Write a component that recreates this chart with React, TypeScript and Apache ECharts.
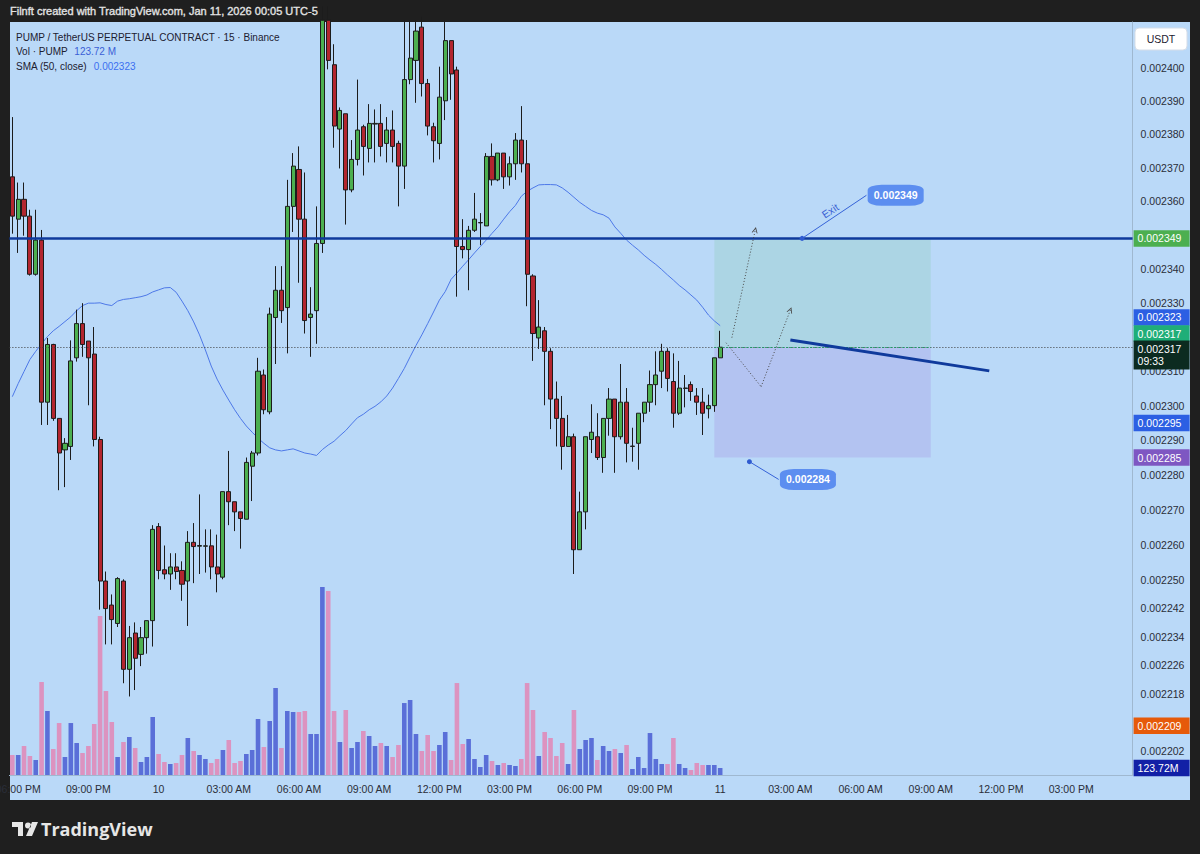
import React, { useEffect, useRef } from "react";
import * as echarts from "echarts";

// ---------- data (price scale is logarithmic) ----------
const SYMBOL_TITLE = "PUMP / TetherUS PERPETUAL CONTRACT · 15 · Binance";
const HEADER = "Filnft created with TradingView.com, Jan 11, 2026 00:05 UTC-5";

const open = [
  0.0023673, 0.0023547, 0.0023606, 0.0023556, 0.0023384, 0.0023485, 0.002301, 0.0023178, 0.0022963, 0.0022872,
  0.0022882, 0.0023139, 0.0023239, 0.0023188, 0.002315, 0.0022902, 0.0022497, 0.0022429, 0.0022377, 0.0022497,
  0.0022248, 0.002235, 0.002229, 0.0022337, 0.0022385, 0.0022652, 0.0022529, 0.0022517, 0.0022537, 0.0022527,
  0.0022497, 0.0022607, 0.0022596, 0.0022596, 0.0022597, 0.0022537, 0.0022508, 0.0022752, 0.0022723, 0.0022694,
  0.0022673, 0.0022825, 0.0022863, 0.0023089, 0.0022982, 0.0023257, 0.0023337, 0.0023286, 0.0023585, 0.0023695,
  0.0023547, 0.0023257, 0.0023277, 0.0023475, 0.0024145, 0.002401, 0.0023816, 0.0023862, 0.0023634, 0.0023725,
  0.0023823, 0.0023758, 0.0023831, 0.0023833, 0.0023773, 0.0023813, 0.0023773, 0.0023705, 0.0023965, 0.0024023,
  0.0024124, 0.0023953, 0.0023823, 0.0023773, 0.0023901, 0.0024083, 0.0023994, 0.0023466, 0.0023457, 0.0023514,
  0.0023536, 0.0023527, 0.0023734, 0.0023664, 0.0023744, 0.0023673, 0.0023712, 0.0023783, 0.0023712, 0.0023379,
  0.0023197, 0.0023218, 0.0023158, 0.0023019, 0.0022963, 0.0022882, 0.002291, 0.0022586, 0.0022694, 0.0022902,
  0.002291, 0.002285, 0.0022963, 0.0023019, 0.002291, 0.002301, 0.0022882, 0.0022891, 0.0022978, 0.002301,
  0.0023061, 0.00231, 0.0023158, 0.002307, 0.0022978, 0.002305, 0.0023061, 0.0023028, 0.002301, 0.0022991,
  0.0023, 0.0023139,
];
const close = [
  0.0023556, 0.0023606, 0.0023556, 0.0023384, 0.0023485, 0.002301, 0.0023178, 0.0022963, 0.0022863, 0.0022891,
  0.002313, 0.0023239, 0.0023178, 0.0023139, 0.0022902, 0.0022497, 0.0022419, 0.0022388, 0.0022504, 0.0022248,
  0.0022337, 0.0022279, 0.0022337, 0.0022385, 0.0022644, 0.0022527, 0.0022517, 0.0022537, 0.0022524, 0.0022488,
  0.0022607, 0.0022595, 0.0022598, 0.0022597, 0.0022537, 0.0022517, 0.0022752, 0.0022723, 0.0022694, 0.0022675,
  0.0022836, 0.0022863, 0.00231, 0.0022988, 0.0023267, 0.0023337, 0.0023277, 0.0023585, 0.0023705, 0.0023547,
  0.0023248, 0.0023267, 0.0023475, 0.0024145, 0.0024023, 0.0023825, 0.0023872, 0.0023634, 0.0023725, 0.0023813,
  0.0023764, 0.0023833, 0.0023833, 0.0023764, 0.0023813, 0.0023764, 0.0023705, 0.0023965, 0.002403, 0.0024112,
  0.0023953, 0.0023825, 0.0023781, 0.0023912, 0.0024083, 0.0023982, 0.0023466, 0.0023457, 0.0023514, 0.0023547,
  0.0023537, 0.0023734, 0.0023664, 0.0023744, 0.0023673, 0.0023712, 0.0023783, 0.0023712, 0.0023384, 0.002321,
  0.0023229, 0.0023158, 0.0023019, 0.0022963, 0.0022882, 0.002291, 0.0022586, 0.0022694, 0.002291, 0.0022923,
  0.002285, 0.0022963, 0.0023019, 0.002291, 0.002301, 0.0022891, 0.0022883, 0.0022978, 0.002301, 0.0023061,
  0.0023089, 0.0023158, 0.0023079, 0.0022978, 0.0023051, 0.0023051, 0.0023041, 0.002301, 0.0022978, 0.0023,
  0.0023139, 0.002317,
];
const low = [
  0.0023504, 0.0023447, 0.0023498, 0.002338, 0.002338, 0.0022944, 0.0022944, 0.0022956, 0.0022756, 0.0022765,
  0.0022843, 0.0023128, 0.0023142, 0.0023001, 0.0022882, 0.0022416, 0.0022318, 0.0022318, 0.0022367, 0.0022209,
  0.0022172, 0.002219, 0.0022257, 0.0022292, 0.0022312, 0.0022502, 0.0022502, 0.0022472, 0.0022502, 0.0022441,
  0.002237, 0.0022491, 0.0022517, 0.0022521, 0.0022502, 0.0022465, 0.0022502, 0.0022656, 0.0022639, 0.0022589,
  0.0022673, 0.0022725, 0.0022856, 0.0022975, 0.0022975, 0.0023121, 0.0023241, 0.0023152, 0.0023509, 0.0023359,
  0.002321, 0.0023142, 0.002318, 0.0023447, 0.0023996, 0.002376, 0.0023698, 0.0023531, 0.0023627, 0.0023707,
  0.0023677, 0.0023716, 0.0023716, 0.0023734, 0.0023716, 0.0023716, 0.0023585, 0.0023637, 0.0023951, 0.0023895,
  0.0023914, 0.0023797, 0.0023716, 0.0023725, 0.0023843, 0.0023904, 0.0023318, 0.0023431, 0.0023337, 0.0023509,
  0.002347, 0.0023527, 0.0023647, 0.002366, 0.0023637, 0.0023647, 0.0023664, 0.0023686, 0.002329, 0.002313,
  0.0023165, 0.0023001, 0.0022932, 0.0022882, 0.0022815, 0.0022882, 0.0022517, 0.0022586, 0.0022644, 0.0022863,
  0.0022843, 0.0022806, 0.0022913, 0.0022806, 0.0022902, 0.0022836, 0.0022838, 0.0022815, 0.0022952, 0.0022982,
  0.0023001, 0.0023051, 0.0023041, 0.0022936, 0.0022973, 0.0022995, 0.0023014, 0.0022973, 0.0022915, 0.0022963,
  0.0022982, 0.0023139,
];
const high = [
  0.0023852, 0.0023656, 0.0023656, 0.0023575, 0.0023575, 0.0023515, 0.0023197, 0.002318, 0.0022963, 0.0022906,
  0.002319, 0.002328, 0.0023299, 0.0023188, 0.0023229, 0.002291, 0.0022524, 0.0022459, 0.0022508, 0.0022502,
  0.002237, 0.002238, 0.0022367, 0.0022385, 0.0022656, 0.0022662, 0.0022598, 0.0022576, 0.0022576, 0.0022553,
  0.0022639, 0.0022662, 0.0022744, 0.0022644, 0.0022644, 0.0022629, 0.0022752, 0.0022869, 0.0022723, 0.0022694,
  0.002285, 0.0022869, 0.0023139, 0.0023105, 0.0023286, 0.0023408, 0.0023408, 0.0023664, 0.0023744, 0.0023764,
  0.0023686, 0.0023346, 0.0023585, 0.0024186, 0.0024186, 0.0024072, 0.0023881, 0.0023862, 0.0023783, 0.0023965,
  0.0023829, 0.0023891, 0.0023875, 0.0023891, 0.0023852, 0.0023872, 0.0023781, 0.0024145, 0.0024145, 0.0024145,
  0.0024155, 0.0023967, 0.0023835, 0.0024004, 0.0024145, 0.0024083, 0.0024004, 0.0023547, 0.0023527, 0.0023625,
  0.0023565, 0.0023744, 0.0023773, 0.0023744, 0.0023744, 0.0023734, 0.0023804, 0.0023885, 0.0023783, 0.0023384,
  0.0023308, 0.0023229, 0.0023167, 0.002307, 0.0023028, 0.0022973, 0.0022919, 0.0022752, 0.002291, 0.0023004,
  0.0022978, 0.0022963, 0.0023051, 0.0023019, 0.0023121, 0.0023051, 0.0022936, 0.0022978, 0.002301, 0.0023102,
  0.0023158, 0.002318, 0.0023167, 0.0023152, 0.002313, 0.0023089, 0.002307, 0.0023051, 0.0023051, 0.0023032,
  0.0023139, 0.0023218,
];
// volume, millions of PUMP
const volume = [
  354, 354, 513, 336, 266, 1646, 1133, 460, 920, 319,
  920, 566, 389, 513, 903, 2814, 1487, 938, 319, 584,
  673, 478, 230, 319, 1027, 372, 230, 195, 212, 354,
  655, 425, 354, 283, 212, 283, 443, 620, 212, 248,
  372, 443, 991, 496, 956, 1540, 478, 1133, 1115, 1115,
  1133, 726, 726, 3328, 3257, 1133, 584, 1151, 478, 584,
  779, 690, 513, 566, 513, 319, 531, 1274, 1328, 726,
  425, 708, 425, 531, 761, 266, 1628, 549, 637, 283,
  142, 354, 248, 177, 212, 177, 159, 283, 1628, 1151,
  336, 761, 655, 336, 566, 195, 1151, 460, 620, 655,
  266, 513, 425, 460, 389, 531, 106, 319, 124, 743,
  283, 195, 195, 655, 195, 124, 89, 212, 177, 177,
  177, 123.72,
];
// SMA(50, close) as drawn
const sma = [
  0.0023026, 0.0023064, 0.0023099, 0.0023134, 0.0023158, 0.002318, 0.0023201, 0.0023218, 0.0023231, 0.0023245,
  0.0023259, 0.0023277, 0.0023292, 0.0023299, 0.0023299, 0.00233, 0.0023295, 0.0023292, 0.0023305, 0.002331,
  0.0023312, 0.0023315, 0.0023318, 0.0023323, 0.0023332, 0.0023338, 0.0023344, 0.0023345, 0.0023331, 0.0023305,
  0.0023277, 0.0023244, 0.0023206, 0.0023162, 0.0023115, 0.0023077, 0.0023045, 0.0023016, 0.0022988, 0.0022963,
  0.0022941, 0.0022923, 0.0022906, 0.0022891, 0.0022878, 0.0022872, 0.0022869, 0.0022872, 0.0022875, 0.0022869,
  0.0022863, 0.002286, 0.0022856, 0.0022873, 0.0022886, 0.0022897, 0.0022913, 0.0022928, 0.0022947, 0.0022965,
  0.0022975, 0.0022988, 0.0022998, 0.0023011, 0.0023028, 0.0023051, 0.0023079, 0.0023108, 0.0023142, 0.0023175,
  0.0023206, 0.0023239, 0.0023273, 0.0023308, 0.0023333, 0.0023369, 0.0023388, 0.0023408, 0.0023427, 0.0023447,
  0.0023466, 0.0023485, 0.0023505, 0.0023524, 0.0023547, 0.0023569, 0.0023588, 0.0023615, 0.002363, 0.002364,
  0.0023649, 0.002365, 0.002365, 0.0023649, 0.002364, 0.0023627, 0.0023612, 0.0023597, 0.0023585, 0.0023573,
  0.0023565, 0.002356, 0.002355, 0.0023524, 0.0023505, 0.0023485, 0.002347, 0.0023456, 0.002344, 0.0023426,
  0.0023413, 0.0023398, 0.0023382, 0.0023367, 0.0023351, 0.0023338, 0.0023323, 0.0023308, 0.0023287, 0.0023264,
  0.0023247, 0.0023233,
];

// time axis: 15-minute bars starting Jan 9, 17:45 (incl. empty future slots)
const START_DAY = 9;
const START_MINUTE = 17 * 60 + 45;
const SLOT_COUNT = 192;
const pad = (n: number) => String(n).padStart(2, "0");
const categories = Array.from({ length: SLOT_COUNT }, (_, i) => {
  const m = START_MINUTE + 15 * i;
  const d = START_DAY + Math.floor(m / 1440);
  const hm = m % 1440;
  return `${d} ${pad(Math.floor(hm / 60))}:${pad(hm % 60)}`;
});

// right (log) price scale tick labels
const priceTicks = [
  0.0024, 0.00239, 0.00238, 0.00237, 0.00236, 0.00234, 0.00233, 0.00231, 0.0023, 0.00229,
  0.00228, 0.00227, 0.00226, 0.00225, 0.002242, 0.002234, 0.002226, 0.002218, 0.00221, 0.002202,
];

// drawings / levels
const exitPrice = 0.002349;
const entryPrice = 0.002317;
const stopPrice = 0.002285;
const lastPrice = 0.002317;

// right-scale tags (value = where the tag sits on the scale, text = shown)
const tags = [
  { value: 0.0023257, text: "0.002323", bg: "#2c5fe3" },
  { value: 0.002321, text: "0.002317", bg: "#1fae78" },
  { value: 0.0023147, text: "0.002317\n09:33", bg: "#0c2b20" },
  { value: 0.002295, text: "0.002295", bg: "#2c5fe3" },
  { value: 0.002285, text: "0.002285", bg: "#7e57c2" },
  { value: 0.002209, text: "0.002209", bg: "#e65a0a" },
];

const FONT = "'Liberation Sans', Arial, sans-serif";
const NAVY = "#0f3a9c";
const UP = "#4caf50";
const DOWN = "#b3262f";
const VOL_UP = "#5a6fd8";
const VOL_DOWN = "#dc93c0";

const TV_LOGO_D =
  "M0 1H11V15H6V6H0Z M13 4.5A3 3 0 1 0 19 4.5A3 3 0 1 0 13 4.5Z M20 1H26L20 15H14Z";
echarts.graphic.registerShape("tvlogo", echarts.graphic.extendPath(TV_LOGO_D, {}));

const ARROW = "path://M0,10 L5,0 L10,10 L8.4,10 L5,3.2 L1.6,10 Z";

function tagLabel(text: string, bg: string) {
  return {
    show: true,
    position: "end",
    distance: 1,
    formatter: text,
    color: "#ffffff",
    backgroundColor: bg,
    padding: [2, 4, 2, 4],
    fontSize: 10.5,
    lineHeight: 12.5,
    width: 48,
    fontFamily: FONT,
    opacity: 1,
  };
}

function buildOption() {
  const candles = open.map((o, i) => [o, close[i], low[i], high[i]]);
  const vols = volume.map((v, i) => ({
    value: v,
    itemStyle: { color: close[i] >= open[i] ? VOL_UP : VOL_DOWN },
  }));
  const hidden = { color: "rgba(0,0,0,0)", width: 0 };
  const dotted = { color: "#4a4a4a", width: 1, type: [1, 2] };

  const tickItems = priceTicks.map((v) => ({
    yAxis: v,
    lineStyle: hidden,
    label: {
      show: true,
      position: "end",
      distance: 8,
      formatter: v.toFixed(6),
      color: "#2a2e39",
      fontSize: 10.5,
      fontFamily: FONT,
      opacity: 1,
    },
  }));

  return {
    animation: false,
    textStyle: { fontFamily: FONT },
    grid: { left: 9.4, right: 67.4, top: 22, bottom: 79, containLabel: false, outerBoundsMode: "none" },
    xAxis: {
      type: "category",
      data: categories,
      boundaryGap: true,
      axisLine: { show: true, lineStyle: { color: "#9fb8d0" } },
      axisTick: { show: false },
      splitLine: { show: false },
      axisLabel: {
        interval: 0,
        color: "#2a2e39",
        fontSize: 10.5,
        margin: 8,
        formatter: (c: string) => {
          const [d, t] = c.split(" ");
          const [h, m] = t.split(":").map(Number);
          if (m !== 0 || h % 3 !== 0) return "";
          if (h === 0) return d;
          const h12 = h % 12 === 0 ? 12 : h % 12;
          return `${pad(h12)}:00 ${h < 12 ? "AM" : "PM"}`;
        },
      },
    },
    yAxis: [
      {
        type: "log",
        position: "right",
        min: 0.00219536,
        max: 0.00241396,
        axisLine: { show: true, lineStyle: { color: "#9fb8d0" } },
        axisTick: { show: false },
        splitLine: { show: false },
        axisLabel: { show: false },
      },
      { type: "value", min: 0, max: 13330, show: false },
    ],
    series: [
      {
        type: "bar",
        name: "Vol",
        xAxisIndex: 0,
        yAxisIndex: 1,
        data: vols,
        barWidth: 4.6,
        z: 1,
        silent: true,
        markLine: {
          silent: true,
          symbol: "none",
          precision: 2,
          data: [
            {
              yAxis: 123.72,
              lineStyle: hidden,
              label: tagLabel("123.72M", "#1220a6"),
            },
          ],
        },
      },
      {
        type: "line",
        name: "SMA",
        data: sma,
        showSymbol: false,
        symbol: "none",
        lineStyle: { color: "#4d78e8", width: 1 },
        z: 2,
        silent: true,
        markLine: {
          silent: true,
          symbol: "none",
          precision: 8,
          label: { show: false },
          data: [
            ...tickItems,
            {
              yAxis: lastPrice,
              lineStyle: { color: "#3a3a3a", width: 1, type: [1, 2] },
              label: { show: false },
            },
            {
              yAxis: exitPrice,
              lineStyle: { color: NAVY, width: 2.6, type: "solid" },
              label: tagLabel("0.002349", "#4caf50"),
            },
            ...tags.map((t) => ({
              yAxis: t.value,
              lineStyle: hidden,
              label: tagLabel(t.text, t.bg),
            })),
          ],
        },
      },
      {
        type: "candlestick",
        name: "PUMP",
        data: candles,
        barWidth: 4.6,
        z: 3,
        clip: true,
        itemStyle: {
          color: UP,
          color0: DOWN,
          borderColor: "#1c1c1c",
          borderColor0: "#1c1c1c",
          borderWidth: 1,
        },
        markArea: {
          silent: true,
          data: [
            [
              { coord: [120, exitPrice], itemStyle: { color: "#acd5e4" } },
              { coord: [157, entryPrice] },
            ],
            [
              { coord: [120, entryPrice], itemStyle: { color: "#b3c3f1" } },
              { coord: [157, stopPrice] },
            ],
          ],
        },
        markLine: {
          silent: true,
          symbol: "none",
          precision: 8,
          label: { show: false },
          data: [
            [
              { coord: [120, entryPrice], lineStyle: { color: "#1f9c63", width: 1, type: [2, 2] } },
              { coord: [157, entryPrice] },
            ],
            [
              { coord: [133, 0.0023191], lineStyle: { color: NAVY, width: 3, type: "solid" } },
              { coord: [167, 0.0023101] },
            ],
            [
              { coord: [123, 0.0023198], symbol: "none", lineStyle: dotted },
              { coord: [127, 0.0023515], symbol: ARROW, symbolSize: 6 },
            ],
            [
              { coord: [122, 0.0023183], symbol: "none", lineStyle: dotted },
              { coord: [128, 0.0023055], symbol: "none" },
            ],
            [
              { coord: [128, 0.0023055], symbol: "none", lineStyle: dotted },
              { coord: [133, 0.0023279], symbol: ARROW, symbolSize: 6 },
            ],
            [
              {
                coord: [135, exitPrice],
                lineStyle: { color: "#3562d8", width: 1, type: "solid" },
                label: {
                  show: true,
                  position: "middle",
                  formatter: "Exit",
                  color: "#3a62d4",
                  fontSize: 10.5,
                  distance: 2,
                },
              },
              { coord: [146, 0.0023618] },
            ],
            [
              { coord: [126, 0.0022838], lineStyle: { color: "#3562d8", width: 1, type: "solid" } },
              { coord: [131, 0.0022787] },
            ],
          ],
        },
        markPoint: {
          silent: true,
          data: [
            { coord: [135, exitPrice], symbol: "circle", symbolSize: 5, itemStyle: { color: "#2f5bd0" }, label: { show: false } },
            { coord: [126, 0.0022838], symbol: "circle", symbolSize: 5, itemStyle: { color: "#2f5bd0" }, label: { show: false } },
            {
              coord: [151, 0.0023618],
              symbol: "roundRect",
              symbolSize: [56, 21],
              itemStyle: { color: "#5c8ef0" },
              label: { show: true, position: "inside", formatter: "0.002349", color: "#fff", fontSize: 10.5, fontWeight: "bold" },
            },
            {
              coord: [136, 0.0022787],
              symbol: "roundRect",
              symbolSize: [56, 21],
              itemStyle: { color: "#5c8ef0" },
              label: { show: true, position: "inside", formatter: "0.002284", color: "#fff", fontSize: 10.5, fontWeight: "bold" },
            },
          ],
        },
      },
    ],
    graphic: [
      {
        type: "text",
        x: 10,
        y: 11,
        style: { text: HEADER, fill: "#e2e2e2", stroke: "#e2e2e2", lineWidth: 0.35, fontSize: 11, fontFamily: FONT, verticalAlign: "middle" },
      },
      {
        type: "text",
        x: 16,
        y: 37,
        style: { text: SYMBOL_TITLE, fill: "#1c2030", fontSize: 10, fontFamily: FONT, verticalAlign: "middle" },
      },
      {
        type: "text",
        x: 16,
        y: 51,
        style: {
          text: "{a|Vol · PUMP}  {b|123.72 M}",
          fontFamily: FONT,
          verticalAlign: "middle",
          rich: {
            a: { fill: "#1c2030", fontSize: 10, fontFamily: FONT },
            b: { fill: "#3a5fd6", fontSize: 10, fontFamily: FONT },
          },
        },
      },
      {
        type: "text",
        x: 16,
        y: 66,
        style: {
          text: "{a|SMA (50, close)}  {b|0.002323}",
          fontFamily: FONT,
          verticalAlign: "middle",
          rich: {
            a: { fill: "#1c2030", fontSize: 10, fontFamily: FONT },
            b: { fill: "#3a6ff0", fontSize: 10, fontFamily: FONT },
          },
        },
      },
      {
        type: "rect",
        shape: { x: 1135, y: 28, width: 52, height: 22, r: 4 },
        style: { fill: "#ffffff", stroke: "#d5dde8" },
      },
      {
        type: "text",
        x: 1161,
        y: 39,
        style: { text: "USDT", fill: "#1c2030", fontSize: 10.5, fontFamily: FONT, align: "center", verticalAlign: "middle" },
      },
      {
        type: "tvlogo",
        x: 12,
        y: 821,
        scaleX: 1,
        scaleY: 1,
        style: { fill: "#e6e6e6" },
      },
      {
        type: "text",
        x: 41,
        y: 829,
        style: { text: "TradingView", fill: "#e6e6e6", fontSize: 18, fontWeight: "bold", fontFamily: "'Open Sans', " + FONT, verticalAlign: "middle" },
      },
    ],
  };
}

export default function App() {
  const ref = useRef<HTMLDivElement>(null);
  useEffect(() => {
    if (!ref.current) return;
    const chart = echarts.init(ref.current, undefined, { renderer: "svg" });
    chart.setOption(buildOption() as any);
    return () => chart.dispose();
  }, []);
  return (
    <div style={{ position: "fixed", left: 0, top: 0, width: 1200, height: 854, background: "#1f1f1f", overflow: "hidden" }}>
      <div style={{ position: "absolute", left: 10, top: 22, width: 1180, height: 778, background: "#bad9f8" }} />
      <div ref={ref} style={{ position: "absolute", left: 0, top: 0, width: 1200, height: 854 }} />
    </div>
  );
}
